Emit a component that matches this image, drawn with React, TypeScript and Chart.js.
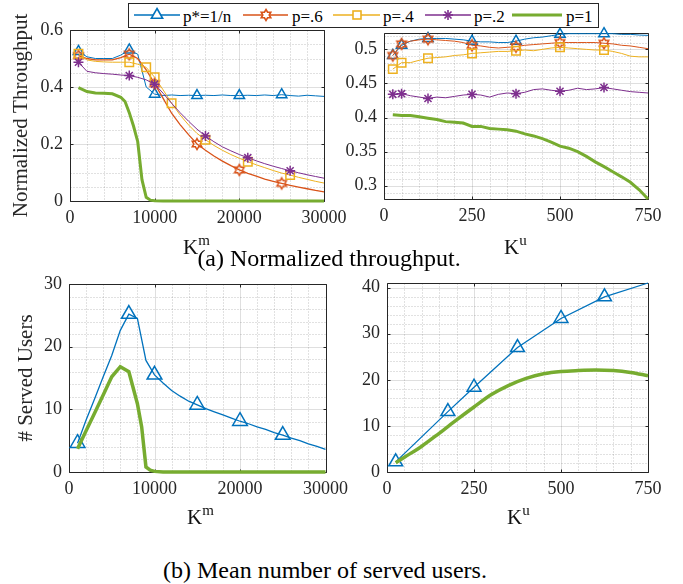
import React, { useEffect, useRef } from 'react';
import { Chart, registerables } from 'chart.js';
Chart.register(...registerables);

const FONT = "'Liberation Serif', 'Times New Roman', Times, serif";
const INK = '#262626';
const C_BLUE = '#0072BD';
const C_ORANGE = '#D95319';
const C_YELLOW = '#EDB120';
const C_PURPLE = '#7E2F8E';
const C_GREEN = '#77AC30';

// ---------- (a) left: throughput vs K^m ----------
const KM = [1000, 2000, 3000, 4000, 5000, 6000, 7000, 8000, 9000, 10000, 11000, 12000, 13000, 14000, 15000, 16000, 17000, 18000, 19000, 20000, 21000, 22000, 23000, 24000, 25000, 26000, 27000, 28000, 29000, 30000];
const TL_BLUE = [0.525, 0.506, 0.5, 0.5, 0.5, 0.512, 0.53, 0.515, 0.4, 0.375, 0.37, 0.372, 0.37, 0.371, 0.37, 0.371, 0.37, 0.372, 0.37, 0.37, 0.371, 0.37, 0.372, 0.37, 0.373, 0.37, 0.368, 0.371, 0.369, 0.367];
const TL_ORANGE = [0.51, 0.5, 0.495, 0.495, 0.495, 0.503, 0.515, 0.5, 0.46, 0.412, 0.36, 0.308, 0.268, 0.233, 0.2, 0.178, 0.158, 0.14, 0.124, 0.109, 0.097, 0.087, 0.077, 0.069, 0.062, 0.055, 0.049, 0.043, 0.037, 0.032];
const TL_YELLOW = [0.517, 0.495, 0.49, 0.488, 0.487, 0.487, 0.487, 0.48, 0.469, 0.434, 0.39, 0.343, 0.302, 0.267, 0.237, 0.215, 0.195, 0.178, 0.163, 0.15, 0.138, 0.127, 0.117, 0.107, 0.098, 0.091, 0.083, 0.076, 0.069, 0.063];
const TL_PURPLE = [0.487, 0.455, 0.45, 0.447, 0.445, 0.442, 0.44, 0.434, 0.425, 0.41, 0.378, 0.343, 0.31, 0.28, 0.252, 0.228, 0.208, 0.19, 0.176, 0.163, 0.152, 0.141, 0.131, 0.122, 0.114, 0.106, 0.099, 0.092, 0.086, 0.08];
const KM_GREEN = [1000, 2000, 3000, 4000, 5000, 6000, 6500, 7000, 7500, 8000, 8500, 9000, 9500, 10000, 11000, 15000, 20000, 25000, 30000];
const TL_GREEN = [0.398, 0.384, 0.379, 0.378, 0.376, 0.364, 0.349, 0.31, 0.263, 0.208, 0.075, 0.013, 0.003, 0.001, 0, 0, 0, 0, 0];
const TL_BLUE_MARKS = [1000, 7000, 10000, 15000, 20000, 25000];
const TL_ORANGE_MARKS = [1000, 7000, 10000, 15000, 20000, 25000];
const TL_YELLOW_MARKS = [1000, 7000, 9000, 10000, 12000, 16000, 21000, 26000];
const TL_PURPLE_MARKS = [1000, 7000, 10000, 16000, 21000, 26000];

// ---------- (a) right: throughput vs K^u ----------
const KU = [25, 50, 75, 100, 125, 150, 175, 200, 225, 250, 275, 300, 325, 350, 375, 400, 425, 450, 475, 500, 525, 550, 575, 600, 625, 650, 675, 700, 725, 750];
const TR_BLUE = [0.491, 0.506, 0.512, 0.515, 0.516, 0.516, 0.516, 0.515, 0.514, 0.512, 0.511, 0.511, 0.51, 0.51, 0.512, 0.515, 0.517, 0.518, 0.52, 0.522, 0.523, 0.523, 0.523, 0.523, 0.523, 0.523, 0.522, 0.522, 0.521, 0.5205];
const TR_ORANGE = [0.491, 0.508, 0.512, 0.514, 0.515, 0.514, 0.513, 0.512, 0.51, 0.506, 0.505, 0.503, 0.502, 0.503, 0.504, 0.506, 0.507, 0.508, 0.509, 0.51, 0.51, 0.51, 0.51, 0.51, 0.509, 0.508, 0.506, 0.505, 0.503, 0.501];
const TR_YELLOW = [0.471, 0.4805, 0.4805, 0.484, 0.487, 0.488, 0.489, 0.491, 0.492, 0.494, 0.495, 0.496, 0.497, 0.497, 0.498, 0.499, 0.498, 0.5, 0.502, 0.503, 0.502, 0.501, 0.5, 0.499, 0.499, 0.497, 0.494, 0.49, 0.489, 0.489];
const TR_PURPLE = [0.434, 0.435, 0.432, 0.43, 0.428, 0.43, 0.429, 0.431, 0.433, 0.434, 0.433, 0.43, 0.434, 0.436, 0.435, 0.437, 0.441, 0.442, 0.44, 0.4385, 0.44, 0.443, 0.441, 0.442, 0.444, 0.442, 0.44, 0.438, 0.437, 0.436];
const TR_GREEN = [0.404, 0.403, 0.403, 0.401, 0.399, 0.397, 0.394, 0.393, 0.392, 0.387, 0.387, 0.384, 0.383, 0.382, 0.38, 0.376, 0.373, 0.369, 0.364, 0.358, 0.355, 0.35, 0.343, 0.335, 0.328, 0.3205, 0.313, 0.305, 0.294, 0.2805];
const TR_MARKS = [25, 50, 125, 250, 375, 500, 625];

// ---------- (b) left: served users vs K^m ----------
const BL_BLUE = [4.6, 8.3, 11.7, 15.2, 18.6, 22.6, 25.2, 24.5, 17.8, 15.5, 14.2, 13.0, 12.1, 11.3, 10.7, 10.1, 9.6, 9.1, 8.6, 8.1, 7.7, 7.2, 6.8, 6.3, 5.9, 5.4, 5.0, 4.5, 4.1, 3.6];
const KM_GREEN_B = [1000, 2000, 3000, 4000, 5000, 6000, 7000, 8000, 8500, 9000, 9500, 10000, 11000, 15000, 20000, 25000, 30000];
const BL_GREEN = [3.7, 6.6, 9.4, 12.3, 15.2, 16.8, 16.0, 10.9, 7.2, 0.8, 0.3, 0.1, 0, 0, 0, 0, 0];
const BL_BLUE_MARKS = [1000, 7000, 10000, 15000, 20000, 25000];

// ---------- (b) right: served users vs K^u ----------
const KU_BLUE_B = [25, 175, 250, 375, 500, 625, 750];
const BR_BLUE = [2.2, 13.1, 18.4, 27.0, 33.3, 38.0, 41.0];
const KU_GREEN_B = [25, 50, 100, 150, 200, 250, 300, 350, 400, 450, 500, 550, 600, 650, 700, 750];
const BR_GREEN = [2.0, 3.2, 5.6, 8.4, 11.3, 14.1, 16.8, 18.8, 20.3, 21.3, 21.8, 22.0, 22.1, 22.0, 21.6, 20.9];
const BR_BLUE_MARKS = [25, 175, 250, 375, 500, 625];

// tick values
const KM_TICKS = { min: 0, max: 30000, step: 10000, minor: 2000 };
const KU_TICKS = { min: 0, max: 750, step: 250, minor: 50 };

const pts = (xs: number[], ys: number[]) => xs.map((x, i) => ({ x, y: ys[i] }));
const marks = (list: number[], r: number) => (ctx: any) => (ctx.raw && list.includes(ctx.raw.x) ? r : 0);
const fmt = (v: any) => String(Math.round(Number(v) * 1000) / 1000);

const matlabAxes = {
  id: 'matlabAxes',
  beforeDatasetsDraw(chart: any, _args: any, opts: any) {
    const { ctx, chartArea: a, scales } = chart;
    const xs = scales.x;
    const ys = scales.y;
    const L = Math.round(a.left) + 0.5;
    const R = Math.round(a.right) + 0.5;
    const T = Math.round(a.top) + 0.5;
    const B = Math.round(a.bottom) + 0.5;
    const majX: number[] = xs.ticks.map((t: any) => t.value);
    const majY: number[] = ys.ticks.map((t: any) => t.value);
    const near = (arr: number[], v: number, s: number) => arr.some((m) => Math.abs(m - v) < s * 1e-3);
    const px = (v: number) => Math.round(xs.getPixelForValue(v)) + 0.5;
    const py = (v: number) => Math.round(ys.getPixelForValue(v)) + 0.5;
    ctx.save();
    ctx.lineWidth = 1;
    // minor grid
    ctx.strokeStyle = 'rgba(38,38,38,0.28)';
    ctx.setLineDash([1, 2]);
    ctx.beginPath();
    for (let v = Math.ceil(xs.min / opts.xMinor - 1e-9) * opts.xMinor; v <= xs.max + 1e-9; v += opts.xMinor) {
      if (near(majX, v, opts.xMinor)) continue;
      const p = px(v);
      ctx.moveTo(p, T); ctx.lineTo(p, B);
    }
    for (let v = Math.ceil(ys.min / opts.yMinor - 1e-9) * opts.yMinor; v <= ys.max + 1e-9; v += opts.yMinor) {
      if (near(majY, v, opts.yMinor)) continue;
      const p = py(v);
      ctx.moveTo(L, p); ctx.lineTo(R, p);
    }
    ctx.stroke();
    // major grid
    ctx.setLineDash([]);
    ctx.strokeStyle = 'rgba(38,38,38,0.15)';
    ctx.beginPath();
    majX.forEach((v) => { const p = px(v); ctx.moveTo(p, T); ctx.lineTo(p, B); });
    majY.forEach((v) => { const p = py(v); ctx.moveTo(L, p); ctx.lineTo(R, p); });
    ctx.stroke();
    // box + inward ticks
    ctx.strokeStyle = INK;
    ctx.beginPath();
    ctx.rect(L, T, R - L, B - T);
    const tl = 3;
    majX.forEach((v) => { const p = px(v); ctx.moveTo(p, B); ctx.lineTo(p, B - tl); ctx.moveTo(p, T); ctx.lineTo(p, T + tl); });
    majY.forEach((v) => { const p = py(v); ctx.moveTo(L, p); ctx.lineTo(L + tl, p); ctx.moveTo(R, p); ctx.lineTo(R - tl, p); });
    ctx.stroke();
    ctx.restore();
  },
};

function makeHexagram(color: string, R: number, lw: number) {
  const size = Math.ceil(2 * R + 2 * lw + 2);
  const c = document.createElement('canvas');
  c.width = size;
  c.height = size;
  const g = c.getContext('2d')!;
  const cx = size / 2;
  const cy = size / 2;
  const r = R / Math.sqrt(3);
  g.beginPath();
  for (let i = 0; i < 12; i++) {
    const ang = -Math.PI / 2 + (i * Math.PI) / 6;
    const rr = i % 2 === 0 ? R : r;
    const x = cx + rr * Math.cos(ang);
    const y = cy + rr * Math.sin(ang);
    if (i === 0) g.moveTo(x, y); else g.lineTo(x, y);
  }
  g.closePath();
  g.strokeStyle = color;
  g.lineWidth = lw;
  g.stroke();
  return c;
}

type Ax = { min: number; max: number; step: number; minor: number };
function config(p: {
  datasets: any[]; x: Ax; y: Ax; yWidth: number; pad: { top: number; right: number; bottom: number };
  yTitle?: string; yTitlePad?: number;
}) {
  const tickFont = { family: FONT, size: 18 };
  return {
    type: 'line',
    data: { datasets: p.datasets },
    options: {
      animation: false,
      responsive: false,
      events: [],
      layout: { padding: { left: 0, top: p.pad.top, right: p.pad.right, bottom: p.pad.bottom } },
      plugins: {
        legend: { display: false },
        tooltip: { enabled: false },
        matlabAxes: { xMinor: p.x.minor, yMinor: p.y.minor },
      },
      scales: {
        x: {
          type: 'linear', min: p.x.min, max: p.x.max,
          grid: { display: false, drawTicks: false }, border: { display: false },
          ticks: { stepSize: p.x.step, includeBounds: false, autoSkip: false, maxRotation: 0, padding: 6, color: INK, font: tickFont, callback: fmt },
          afterFit: (s: any) => { s.height = 30; },
        },
        y: {
          type: 'linear', min: p.y.min, max: p.y.max,
          grid: { display: false, drawTicks: false }, border: { display: false },
          ticks: { stepSize: p.y.step, includeBounds: false, autoSkip: false, padding: 7, color: INK, font: tickFont, callback: fmt },
          title: p.yTitle
            ? { display: true, text: p.yTitle, color: INK, font: { family: FONT, size: 21 }, padding: { top: p.yTitlePad ?? 0, bottom: 0 } }
            : { display: false },
          afterFit: (s: any) => { s.width = p.yWidth; },
        },
      },
    },
    plugins: [matlabAxes],
  };
}

function line(data: any[], color: string, width: number, order: number, extra: any = {}) {
  return {
    data, borderColor: color, borderWidth: width, fill: false, tension: 0, clip: false, order,
    pointBorderColor: color, pointBackgroundColor: 'rgba(0,0,0,0)', pointBorderWidth: 1.5, pointRadius: 0,
    ...extra,
  };
}

function Plot({ left, top, width, height, build }: { left: number; top: number; width: number; height: number; build: () => any }) {
  const ref = useRef<HTMLCanvasElement>(null);
  useEffect(() => {
    const chart = new Chart(ref.current as HTMLCanvasElement, build());
    return () => chart.destroy();
  }, []);
  return <canvas ref={ref} width={width} height={height} style={{ position: 'absolute', left, top, width, height }} />;
}

const buildTL = () => {
  const hex = makeHexagram(C_ORANGE, 5.5, 1.5);
  return config({
    datasets: [
      line(pts(KM, TL_BLUE), C_BLUE, 1, 4, { pointStyle: 'triangle', pointRadius: marks(TL_BLUE_MARKS, 6) }),
      line(pts(KM, TL_ORANGE), C_ORANGE, 1.3, 3, { pointStyle: hex, pointRadius: marks(TL_ORANGE_MARKS, 5) }),
      line(pts(KM, TL_YELLOW), C_YELLOW, 1, 2, { pointStyle: 'rect', pointRadius: marks(TL_YELLOW_MARKS, 6) }),
      line(pts(KM, TL_PURPLE), C_PURPLE, 1, 1, { pointStyle: 'star', pointRadius: marks(TL_PURPLE_MARKS, 5) }),
      line(pts(KM_GREEN, TL_GREEN), C_GREEN, 3, 0),
    ],
    x: KM_TICKS,
    y: { min: 0, max: 0.6, step: 0.2, minor: 0.05 },
    yWidth: 70,
    pad: { top: 30, right: 30, bottom: 9 },
    yTitle: 'Normalized Throughput',
    yTitlePad: 9,
  });
};

const buildTR = () => {
  const hex = makeHexagram(C_ORANGE, 5.5, 1.5);
  return config({
    datasets: [
      line(pts(KU, TR_BLUE), C_BLUE, 1, 4, { pointStyle: 'triangle', pointRadius: marks(TR_MARKS, 6) }),
      line(pts(KU, TR_ORANGE), C_ORANGE, 1, 3, { pointStyle: hex, pointRadius: marks(TR_MARKS, 5) }),
      line(pts(KU, TR_YELLOW), C_YELLOW, 1, 2, { pointStyle: 'rect', pointRadius: marks(TR_MARKS, 6) }),
      line(pts(KU, TR_PURPLE), C_PURPLE, 1, 1, { pointStyle: 'star', pointRadius: marks(TR_MARKS, 5) }),
      line(pts(KU, TR_GREEN), C_GREEN, 3, 0),
    ],
    x: KU_TICKS,
    y: { min: 0.2805, max: 0.524, step: 0.05, minor: 0.01 },
    yWidth: 54,
    pad: { top: 33, right: 36, bottom: 11 },
  });
};

const buildBL = () =>
  config({
    datasets: [
      line(pts(KM, BL_BLUE), C_BLUE, 1.3, 1, { pointStyle: 'triangle', pointRadius: marks(BL_BLUE_MARKS, 8.5) }),
      line(pts(KM_GREEN_B, BL_GREEN), C_GREEN, 3.5, 0),
    ],
    x: KM_TICKS,
    y: { min: 0, max: 30, step: 10, minor: 2 },
    yWidth: 69,
    pad: { top: 34, right: 27, bottom: 8 },
    yTitle: '# Served Users',
    yTitlePad: 14,
  });

const buildBR = () =>
  config({
    datasets: [
      line(pts(KU_BLUE_B, BR_BLUE), C_BLUE, 1.3, 1, { pointStyle: 'triangle', pointRadius: marks(BR_BLUE_MARKS, 8) }),
      line(pts(KU_GREEN_B, BR_GREEN), C_GREEN, 3.5, 0, { cubicInterpolationMode: 'monotone' }),
    ],
    x: KU_TICKS,
    y: { min: 0, max: 41, step: 10, minor: 2 },
    yWidth: 57,
    pad: { top: 33, right: 36, bottom: 8 },
  });

function Label({ left, baseline, main, sup }: { left: number; baseline: number; main: string; sup: string }) {
  return (
    <div style={{ position: 'absolute', left, top: baseline - 17.6, fontFamily: FONT, fontSize: 21, lineHeight: '21px', color: '#111', whiteSpace: 'nowrap' }}>
      {main}
      <span style={{ fontSize: 15, position: 'relative', top: -9 }}>{sup}</span>
    </div>
  );
}

function Caption({ center, baseline, text }: { center: number; baseline: number; text: string }) {
  return (
    <div style={{ position: 'absolute', left: center - 250, width: 500, top: baseline - 20.1, textAlign: 'center', fontFamily: FONT, fontSize: 24, lineHeight: '24px', color: '#000', whiteSpace: 'nowrap' }}>
      {text}
    </div>
  );
}

function hexPoints(cx: number, cy: number, R: number) {
  const r = R / Math.sqrt(3);
  const out: string[] = [];
  for (let i = 0; i < 12; i++) {
    const ang = -Math.PI / 2 + (i * Math.PI) / 6;
    const rr = i % 2 === 0 ? R : r;
    out.push(`${(cx + rr * Math.cos(ang)).toFixed(2)},${(cy + rr * Math.sin(ang)).toFixed(2)}`);
  }
  return out.join(' ');
}

const LEGEND_LABELS = ['p*=1/n', 'p=.6', 'p=.4', 'p=.2', 'p=1'];

function Legend() {
  const ly = 11;
  const ty = 18;
  const tStyle = { fontFamily: FONT, fontSize: 17 } as any;
  const tri = (cx: number, cy: number, r: number) =>
    `${cx},${cy - r} ${cx + r * 0.866},${cy + r / 2} ${cx - r * 0.866},${cy + r / 2}`;
  return (
    <div style={{ position: 'absolute', left: 128, top: 3, width: 471, height: 25, boxSizing: 'border-box', border: `1px solid ${INK}`, background: '#fff' }}>
      <svg width={469} height={23} style={{ display: 'block' }}>
        <line x1={5} y1={ly} x2={51} y2={ly} stroke={C_BLUE} strokeWidth={1.3} />
        <polygon points={tri(28, ly, 6.5)} fill="#fff" stroke={C_BLUE} strokeWidth={1.6} />
        <text x={54} y={ty} style={tStyle}>{LEGEND_LABELS[0]}</text>

        <line x1={114} y1={ly} x2={159} y2={ly} stroke={C_ORANGE} strokeWidth={1.3} />
        <polygon points={hexPoints(137, ly, 5.5)} fill="#fff" stroke={C_ORANGE} strokeWidth={1.6} />
        <text x={163} y={ty} style={tStyle}>{LEGEND_LABELS[1]}</text>

        <line x1={204} y1={ly} x2={251} y2={ly} stroke={C_YELLOW} strokeWidth={1.3} />
        <rect x={224} y={ly - 4} width={8} height={8} fill="#fff" stroke={C_YELLOW} strokeWidth={1.6} />
        <text x={254} y={ty} style={tStyle}>{LEGEND_LABELS[2]}</text>

        <line x1={296} y1={ly} x2={342} y2={ly} stroke={C_PURPLE} strokeWidth={1.3} />
        <g stroke={C_PURPLE} strokeWidth={1.6}>
          <line x1={319 - 5} y1={ly} x2={319 + 5} y2={ly} />
          <line x1={319} y1={ly - 5} x2={319} y2={ly + 5} />
          <line x1={319 - 3.5} y1={ly - 3.5} x2={319 + 3.5} y2={ly + 3.5} />
          <line x1={319 - 3.5} y1={ly + 3.5} x2={319 + 3.5} y2={ly - 3.5} />
        </g>
        <text x={345} y={ty} style={tStyle}>{LEGEND_LABELS[3]}</text>

        <line x1={383} y1={ly} x2={433} y2={ly} stroke={C_GREEN} strokeWidth={3} />
        <text x={437} y={ty} style={tStyle}>{LEGEND_LABELS[4]}</text>
      </svg>
    </div>
  );
}

export default function App() {
  return (
    <div style={{ position: 'fixed', left: 0, top: 0, width: 683, height: 584, background: '#fff', overflow: 'hidden' }}>
      <Plot left={0} top={0} width={354} height={240} build={buildTL} />
      <Plot left={330} top={0} width={354} height={240} build={buildTR} />
      <Plot left={0} top={250} width={354} height={260} build={buildBL} />
      <Plot left={330} top={250} width={354} height={260} build={buildBR} />
      <Legend />
      <Label left={183} baseline={255} main="K" sup="m" />
      <Label left={504} baseline={255} main="K" sup="u" />
      <Label left={187} baseline={525} main="K" sup="m" />
      <Label left={507} baseline={525} main="K" sup="u" />
      <Caption center={329} baseline={266} text="(a) Normalized throughput." />
      <Caption center={325} baseline={578} text="(b) Mean number of served users." />
    </div>
  );
}
